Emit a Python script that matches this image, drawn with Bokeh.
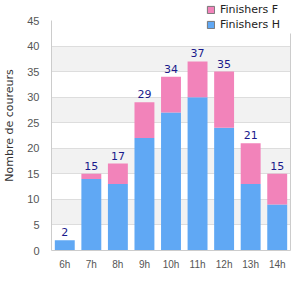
from bokeh.plotting import figure
from bokeh.models import (FactorRange, Range1d, Legend, LegendItem, ColumnDataSource,
                          SingleIntervalTicker, LinearAxis, FixedTicker)
from bokeh.core.properties import value
from bokeh.embed import file_html
from bokeh.resources import INLINE

hours = ["6h", "7h", "8h", "9h", "10h", "11h", "12h", "13h", "14h"]
finishers_h = [2, 14, 13, 22, 27, 30, 24, 13, 9]
finishers_f = [0, 1, 4, 7, 7, 7, 11, 8, 6]
totals = [h + f for h, f in zip(finishers_h, finishers_f)]
y_ticks_max = 45

BLUE = "#60a8f4"
PINK = "#f283ba"
FONT = "DejaVu Sans"
TICKFONT = "Liberation Sans"

src = ColumnDataSource(dict(hour=hours, h=finishers_h, f=finishers_f,
                            total=totals, label=[str(t) for t in totals]))

# frame spans the full top of the canvas so that the legend (drawn inside the frame) is not clipped
y_top = y_ticks_max * 250 / 230
p = figure(width=300, height=300, x_range=FactorRange(factors=hours),
           y_range=Range1d(0, y_top), output_backend="svg", toolbar_location=None,
           min_border_left=50, min_border_right=10, min_border_top=0, min_border_bottom=50)

rs = p.vbar_stack(["h", "f"], x="hour", width=0.75, color=[BLUE, PINK],
                  line_color=None, source=src)

p.text(x="hour", y="total", text="label", source=src, text_align="center",
       text_baseline="bottom", y_offset=-4, text_color="#1a1a8c",
       text_font=value(FONT), text_font_size="11px")

# legend proxies (drawn below the visible y range)
lf = p.vbar(x=["6h"], bottom=[-101], top=[-100], width=0.5, fill_color=PINK, line_color="#777777")
lh = p.vbar(x=["6h"], bottom=[-101], top=[-100], width=0.5, fill_color=BLUE, line_color="#777777")
legend = Legend(items=[LegendItem(label="Finishers F", renderers=[lf]),
                       LegendItem(label="Finishers H", renderers=[lh])],
                location=(155, 219), background_fill_color="white", background_fill_alpha=1,
                border_line_color=None, label_text_font=FONT, label_text_font_size="11px",
                label_text_color="#222222", glyph_width=9, glyph_height=9,
                label_height=13, spacing=2, padding=10, margin=0, label_standoff=5)
p.add_layout(legend, "center")

p.outline_line_color = None
p.background_fill_color = "white"
p.border_fill_color = "white"

p.xgrid.grid_line_color = None
p.ygrid.grid_line_color = "#dddddd"
p.ygrid.band_fill_color = "#f2f2f2"
p.ygrid.band_fill_alpha = 1

p.yaxis.ticker = SingleIntervalTicker(interval=5)
p.yaxis.bounds = (0, y_ticks_max)
for ax in (p.xaxis[0], p.yaxis[0]):
    ax.axis_line_color = "#cccccc"
    ax.major_tick_line_color = None
    ax.minor_tick_line_color = None
    ax.major_tick_out = 0
    ax.major_tick_in = 0
    ax.major_label_text_font = TICKFONT
    ax.major_label_text_color = "#555555"
p.yaxis.major_label_text_font_size = "11px"
p.xaxis.major_label_text_font_size = "10px"
p.yaxis.major_label_standoff = 8
p.xaxis.major_label_standoff = 8
p.yaxis.axis_label = "Nombre de coureurs"
p.yaxis.axis_label_text_font = FONT
p.yaxis.axis_label_text_font_size = "11px"
p.yaxis.axis_label_text_font_style = "normal"
p.yaxis.axis_label_text_color = "#333333"
p.yaxis.axis_label_standoff = 8

# right border of the plotting box, below the legend (no ticks, no labels)
right = LinearAxis(bounds=(0, 42.5), ticker=FixedTicker(ticks=[]),
                   major_tick_line_color=None, minor_tick_line_color=None,
                   axis_line_color="#cccccc", major_tick_out=0, major_tick_in=0)
p.add_layout(right, "right")

open("out.html", "w").write(file_html(p, INLINE))
